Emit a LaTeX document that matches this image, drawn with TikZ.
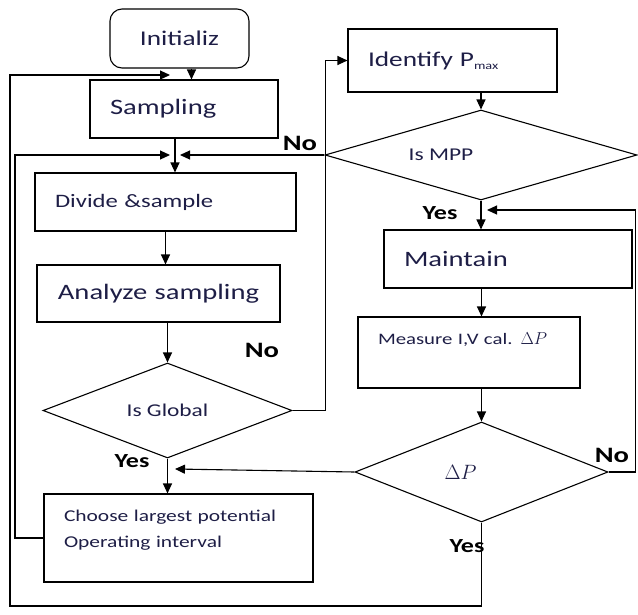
\documentclass[tikz,border=0pt]{standalone}
\usepackage{fontspec}
\setmainfont{Carlito}[FakeStretch=1.3]
\usepackage{xcolor}
\usepackage{tikz}
\usetikzlibrary{arrows.meta,positioning,shapes.geometric}

\definecolor{inkblue}{RGB}{30,30,70}

\begin{document}
\begin{tikzpicture}[x=1pt, y=-1pt, line width=1.1pt,
    box/.style={draw, rectangle, text=inkblue, align=left, inner xsep=20pt, inner ysep=2pt},
    decision/.style={draw, diamond, text=inkblue, inner sep=0pt},
    arr/.style={-{Triangle[length=10pt,width=9pt]}},
    tag/.style={font=\bfseries\fontsize{20}{20}\selectfont}]

    \useasboundingbox (0,0) rectangle (638,614);

    % Left column
    \node[draw, rounded corners=12pt, text=inkblue, minimum width=139pt, minimum height=59pt,
        font=\fontsize{21}{25}\selectfont] (init) at (179.5,38.5) {Initializ};
    \node[box, text width=148pt, minimum height=58pt, font=\fontsize{22}{26}\selectfont]
        (samp) at (184,109) {Sampling};
    \node[box, text width=221pt, minimum height=58pt, font=\fontsize{19}{23}\selectfont]
        (divide) at (165.5,202) {Divide \&sample};
    \node[box, align=center, text width=203pt, minimum height=57pt, font=\fontsize{22}{26}\selectfont]
        (analyze) at (158.5,293.5) {Analyze sampling};
    \node[decision, minimum width=249pt, minimum height=95pt, aspect=2.6,
        font=\fontsize{18}{20}\selectfont] (isglobal) at (167.5,410.5) {Is Global};
    \node[box, text width=229pt, minimum height=88pt, text depth=44pt, font=\fontsize{16.5}{26}\selectfont]
        (choose) at (178.5,538) {Choose largest potential\\Operating interval};

    % Right column
    \node[box, text width=169pt, minimum height=63pt, font=\fontsize{21}{25}\selectfont]
        (identify) at (452.5,60.5) {Identify P\raisebox{-3pt}{\fontsize{11}{11}\selectfont max}};
    \node[decision, minimum width=312pt, minimum height=90pt, aspect=3.47,
        font=\fontsize{18}{20}\selectfont] (ismpp) at (481,155) {Is MPP\hspace*{80pt}};
    \node[box, text width=208pt, minimum height=58pt, font=\fontsize{22}{26}\selectfont]
        (maintain) at (508,259) {Maintain};
    \node[box, text width=182pt, minimum height=71pt, text depth=27pt, font=\fontsize{16}{20}\selectfont]
        (measure) at (469,352.5) {Measure I,V cal. $\Delta P$};
    \node[decision, minimum width=253pt, minimum height=100pt, aspect=2.5,
        font=\fontsize{22}{24}\selectfont] (dp) at (481.5,472) {$\Delta P$\hspace*{42pt}};

    % Junctions
    \coordinate (restart) at (170,75);
    \coordinate (merge) at (175,155);
    \coordinate (yesjoin) at (175,469);
    \coordinate (loopin) at (487,210);

    % Connectors
    \draw[arr] ([xshift=12pt]init.south) -- ([xshift=12pt]init.south |- samp.north);
    \draw[arr] (dp.south) |- (10,606) |- (restart);
    \draw[arr] (samp.south -| merge) -- (divide.north -| merge);
    \draw[arr] (choose.west) -| (15,155) -- ([xshift=-5pt]merge);
    \draw[arr] (ismpp.west) -- ([xshift=5pt]merge);
    \draw[arr] (divide.south) -- (divide.south |- analyze.north);
    \draw[arr] (isglobal.north |- analyze.south) -- (isglobal.north);
    \draw[arr] (isglobal.east) -- ++(33,0) |- (identify.west);
    \draw[arr] (isglobal.south) -- (isglobal.south |- choose.north);
    \draw[arr] (dp.west) -- (yesjoin);
    \draw[arr] (ismpp.north |- identify.south) -- (ismpp.north);
    \draw[arr] (ismpp.south) -- (ismpp.south |- maintain.north);
    \draw[arr] (dp.east) -- ++(27,0) |- (loopin);
    \draw[arr] (dp.north |- maintain.south) -- (dp.north |- measure.north);
    \draw[arr] (dp.north |- measure.south) -- (dp.north);

    % Yes / No tags
    \node[tag, font=\bfseries\fontsize{22}{22}\selectfont] (noglobal) at (262,350) {No};
    \node[tag] (yesglobal) at (132,461) {Yes};
    \node[tag, font=\bfseries\fontsize{22}{22}\selectfont] (nompp) at (300,143) {No};
    \node[tag] (yesmpp) at (440,213) {Yes};
    \node[tag, font=\bfseries\fontsize{22}{22}\selectfont] (nodp) at (612,455) {No};
    \node[tag] (yesdp) at (467,546) {Yes};
\end{tikzpicture}
\end{document}
